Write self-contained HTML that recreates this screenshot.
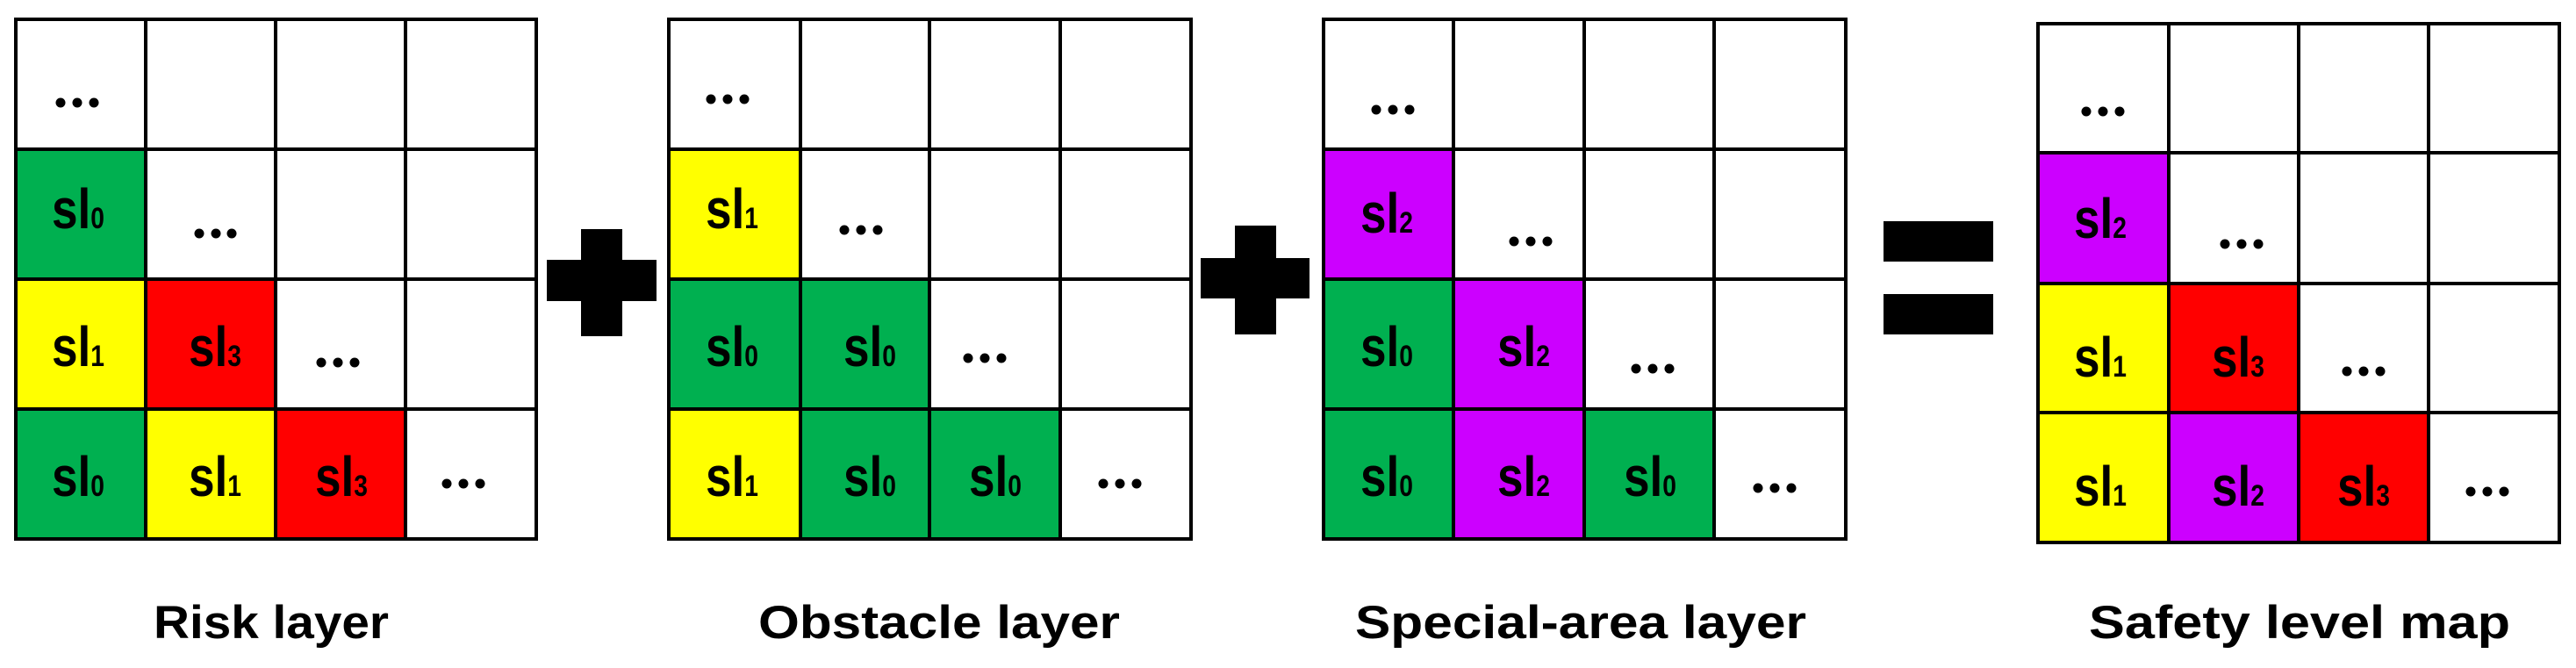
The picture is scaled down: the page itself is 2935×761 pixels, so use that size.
<!DOCTYPE html>
<html><head><meta charset="utf-8"><style>html,body{margin:0;padding:0;background:#fff}svg{display:block}</style></head>
<body>
<svg xmlns="http://www.w3.org/2000/svg" width="2935" height="761" viewBox="0 0 2935 761" font-family="Liberation Sans, sans-serif" font-weight="bold">
<rect width="2935" height="761" fill="#fff"/>
<g id="g1">
<rect x="18" y="170" width="148" height="148" fill="#00B050"/>
<rect x="18" y="318" width="148" height="148" fill="#FFFF00"/>
<rect x="166" y="318" width="148" height="148" fill="#FF0000"/>
<rect x="18" y="466" width="148" height="148" fill="#00B050"/>
<rect x="166" y="466" width="148" height="148" fill="#FFFF00"/>
<rect x="314" y="466" width="148" height="148" fill="#FF0000"/>
<g stroke="#000" stroke-width="4" fill="none">
<rect x="18" y="22" width="593" height="592"/>
<path d="M166 22V614M314 22V614M462 22V614M18 170H611M18 318H611M18 466H611"/>
</g>
</g>
<g id="g2">
<rect x="762" y="170" width="150" height="148" fill="#FFFF00"/>
<rect x="762" y="318" width="150" height="148" fill="#00B050"/>
<rect x="912" y="318" width="147" height="148" fill="#00B050"/>
<rect x="762" y="466" width="150" height="148" fill="#FFFF00"/>
<rect x="912" y="466" width="147" height="148" fill="#00B050"/>
<rect x="1059" y="466" width="149" height="148" fill="#00B050"/>
<g stroke="#000" stroke-width="4" fill="none">
<rect x="762" y="22" width="595" height="592"/>
<path d="M912 22V614M1059 22V614M1208 22V614M762 170H1357M762 318H1357M762 466H1357"/>
</g>
</g>
<g id="g3">
<rect x="1508" y="170" width="148" height="148" fill="#CC00FF"/>
<rect x="1508" y="318" width="148" height="148" fill="#00B050"/>
<rect x="1656" y="318" width="149" height="148" fill="#CC00FF"/>
<rect x="1508" y="466" width="148" height="148" fill="#00B050"/>
<rect x="1656" y="466" width="149" height="148" fill="#CC00FF"/>
<rect x="1805" y="466" width="148" height="148" fill="#00B050"/>
<g stroke="#000" stroke-width="4" fill="none">
<rect x="1508" y="22" width="595" height="592"/>
<path d="M1656 22V614M1805 22V614M1953 22V614M1508 170H2103M1508 318H2103M1508 466H2103"/>
</g>
</g>
<g id="g4">
<rect x="2322" y="174" width="149" height="149" fill="#CC00FF"/>
<rect x="2322" y="323" width="149" height="147" fill="#FFFF00"/>
<rect x="2471" y="323" width="148" height="147" fill="#FF0000"/>
<rect x="2322" y="470" width="149" height="148" fill="#FFFF00"/>
<rect x="2471" y="470" width="148" height="148" fill="#CC00FF"/>
<rect x="2619" y="470" width="148" height="148" fill="#FF0000"/>
<g stroke="#000" stroke-width="4" fill="none">
<rect x="2322" y="27" width="594" height="591"/>
<path d="M2471 27V618M2619 27V618M2767 27V618M2322 174H2916M2322 323H2916M2322 470H2916"/>
</g>
</g>
<rect x="623" y="296" width="125" height="47" fill="#000"/>
<rect x="662" y="261" width="47" height="122" fill="#000"/>
<rect x="1368" y="294" width="124" height="46" fill="#000"/>
<rect x="1407" y="257" width="47" height="124" fill="#000"/>
<rect x="2146" y="252" width="125" height="46" fill="#000"/>
<rect x="2146" y="335" width="125" height="46" fill="#000"/>
<g fill="#000">
<circle cx="69" cy="117" r="5.5"/><circle cx="88" cy="117" r="5.5"/><circle cx="107" cy="117" r="5.5"/>
<circle cx="227" cy="266" r="5.5"/><circle cx="246" cy="266" r="5.5"/><circle cx="264" cy="266" r="5.5"/>
<circle cx="366" cy="413" r="5.5"/><circle cx="385" cy="413" r="5.5"/><circle cx="404" cy="413" r="5.5"/>
<circle cx="509" cy="551" r="5.5"/><circle cx="528" cy="551" r="5.5"/><circle cx="547" cy="551" r="5.5"/>
<circle cx="810" cy="113" r="5.5"/><circle cx="829" cy="113" r="5.5"/><circle cx="848" cy="113" r="5.5"/>
<circle cx="962" cy="262" r="5.5"/><circle cx="981" cy="262" r="5.5"/><circle cx="1000" cy="262" r="5.5"/>
<circle cx="1103" cy="408" r="5.5"/><circle cx="1122" cy="408" r="5.5"/><circle cx="1141" cy="408" r="5.5"/>
<circle cx="1257" cy="551" r="5.5"/><circle cx="1276" cy="551" r="5.5"/><circle cx="1295" cy="551" r="5.5"/>
<circle cx="1568" cy="125" r="5.5"/><circle cx="1587" cy="125" r="5.5"/><circle cx="1606" cy="125" r="5.5"/>
<circle cx="1725" cy="275" r="5.5"/><circle cx="1744" cy="275" r="5.5"/><circle cx="1763" cy="275" r="5.5"/>
<circle cx="1864" cy="420" r="5.5"/><circle cx="1883" cy="420" r="5.5"/><circle cx="1902" cy="420" r="5.5"/>
<circle cx="2003" cy="556" r="5.5"/><circle cx="2022" cy="556" r="5.5"/><circle cx="2041" cy="556" r="5.5"/>
<circle cx="2377" cy="127" r="5.5"/><circle cx="2396" cy="127" r="5.5"/><circle cx="2415" cy="127" r="5.5"/>
<circle cx="2535" cy="278" r="5.5"/><circle cx="2554" cy="278" r="5.5"/><circle cx="2573" cy="278" r="5.5"/>
<circle cx="2674" cy="423" r="5.5"/><circle cx="2693" cy="423" r="5.5"/><circle cx="2712" cy="423" r="5.5"/>
<circle cx="2815" cy="560" r="5.5"/><circle cx="2834" cy="560" r="5.5"/><circle cx="2853" cy="560" r="5.5"/>
</g>
<g fill="#000" font-size="64" text-anchor="middle">
<text x="89" y="260" textLength="60" lengthAdjust="spacingAndGlyphs">sl<tspan font-size="34">0</tspan></text>
<text x="89" y="417" textLength="60" lengthAdjust="spacingAndGlyphs">sl<tspan font-size="34">1</tspan></text>
<text x="245" y="417" textLength="60" lengthAdjust="spacingAndGlyphs">sl<tspan font-size="34">3</tspan></text>
<text x="89" y="565" textLength="60" lengthAdjust="spacingAndGlyphs">sl<tspan font-size="34">0</tspan></text>
<text x="245" y="565" textLength="60" lengthAdjust="spacingAndGlyphs">sl<tspan font-size="34">1</tspan></text>
<text x="389" y="565" textLength="60" lengthAdjust="spacingAndGlyphs">sl<tspan font-size="34">3</tspan></text>
<text x="834" y="260" textLength="60" lengthAdjust="spacingAndGlyphs">sl<tspan font-size="34">1</tspan></text>
<text x="834" y="417" textLength="60" lengthAdjust="spacingAndGlyphs">sl<tspan font-size="34">0</tspan></text>
<text x="991" y="417" textLength="60" lengthAdjust="spacingAndGlyphs">sl<tspan font-size="34">0</tspan></text>
<text x="834" y="565" textLength="60" lengthAdjust="spacingAndGlyphs">sl<tspan font-size="34">1</tspan></text>
<text x="991" y="565" textLength="60" lengthAdjust="spacingAndGlyphs">sl<tspan font-size="34">0</tspan></text>
<text x="1134" y="565" textLength="60" lengthAdjust="spacingAndGlyphs">sl<tspan font-size="34">0</tspan></text>
<text x="1580" y="265" textLength="60" lengthAdjust="spacingAndGlyphs">sl<tspan font-size="34">2</tspan></text>
<text x="1580" y="417" textLength="60" lengthAdjust="spacingAndGlyphs">sl<tspan font-size="34">0</tspan></text>
<text x="1736" y="417" textLength="60" lengthAdjust="spacingAndGlyphs">sl<tspan font-size="34">2</tspan></text>
<text x="1580" y="565" textLength="60" lengthAdjust="spacingAndGlyphs">sl<tspan font-size="34">0</tspan></text>
<text x="1736" y="565" textLength="60" lengthAdjust="spacingAndGlyphs">sl<tspan font-size="34">2</tspan></text>
<text x="1880" y="565" textLength="60" lengthAdjust="spacingAndGlyphs">sl<tspan font-size="34">0</tspan></text>
<text x="2393" y="271" textLength="60" lengthAdjust="spacingAndGlyphs">sl<tspan font-size="34">2</tspan></text>
<text x="2393" y="429" textLength="60" lengthAdjust="spacingAndGlyphs">sl<tspan font-size="34">1</tspan></text>
<text x="2550" y="429" textLength="60" lengthAdjust="spacingAndGlyphs">sl<tspan font-size="34">3</tspan></text>
<text x="2393" y="576" textLength="60" lengthAdjust="spacingAndGlyphs">sl<tspan font-size="34">1</tspan></text>
<text x="2550" y="576" textLength="60" lengthAdjust="spacingAndGlyphs">sl<tspan font-size="34">2</tspan></text>
<text x="2693" y="576" textLength="60" lengthAdjust="spacingAndGlyphs">sl<tspan font-size="34">3</tspan></text>
</g>
<g fill="#000" font-size="53">
<text x="175" y="727" textLength="268" lengthAdjust="spacingAndGlyphs">Risk layer</text>
<text x="864" y="727" textLength="412" lengthAdjust="spacingAndGlyphs">Obstacle layer</text>
<text x="1544" y="727" textLength="514" lengthAdjust="spacingAndGlyphs">Special-area layer</text>
<text x="2380" y="727" textLength="480" lengthAdjust="spacingAndGlyphs">Safety level map</text>
</g>
</svg>
</body></html>
